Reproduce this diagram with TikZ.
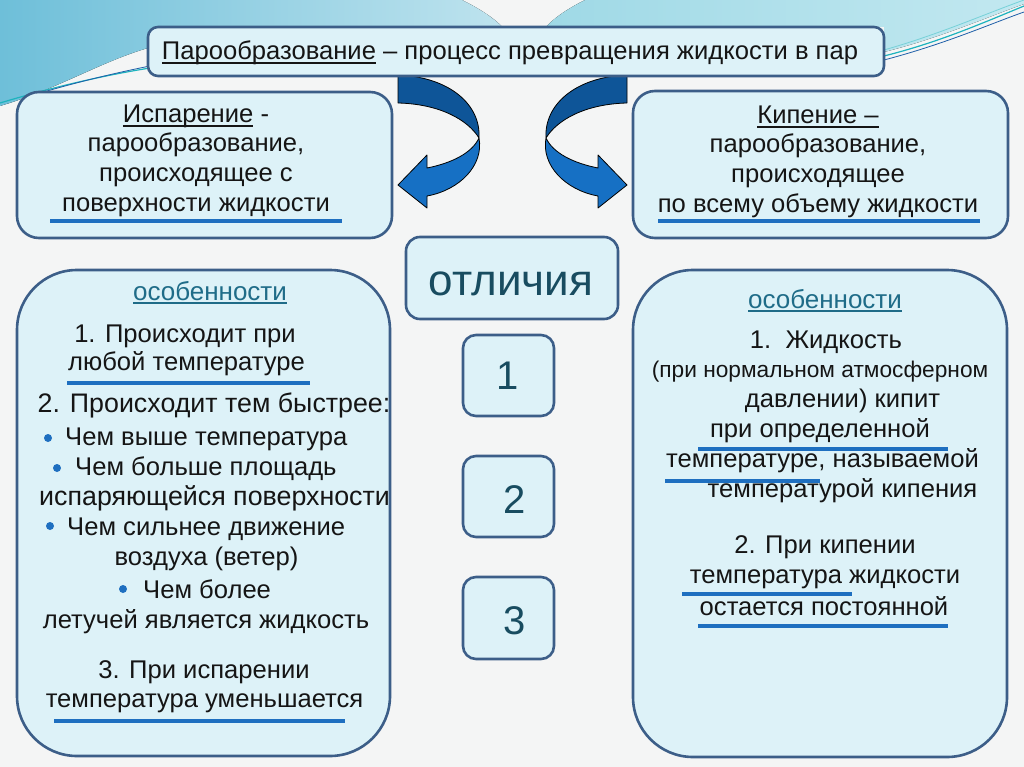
\documentclass[tikz,border=0pt]{standalone}
\usepackage{fontspec}
\setmainfont{Liberation Sans}
\newcommand{\uln}[1]{\setbox0=\hbox{#1}\rlap{\vrule width\wd0 height -2.4pt depth 3.8pt}\box0\relax}
\definecolor{bgc}{HTML}{F4F5F5}
\definecolor{bl1}{HTML}{6EBFD9}
\definecolor{bl2}{HTML}{BEE3EE}
\definecolor{cy1}{HTML}{9FD9E6}
\definecolor{cy2}{HTML}{C2E8F0}
\definecolor{boxfill}{HTML}{DDF2F8}
\definecolor{boxline}{HTML}{3C5E88}
\definecolor{uline}{HTML}{1E6FC0}
\definecolor{tealc}{HTML}{1F6C88}
\definecolor{dteal}{HTML}{184C60}
\definecolor{arrdark}{HTML}{0E5598}
\definecolor{arrlight}{HTML}{1670C4}
\definecolor{txt}{HTML}{151515}
\definecolor{tline}{HTML}{1DB3BE}
\definecolor{bline}{HTML}{1E5FA8}
\tikzset{
  box/.style={draw=boxline, fill=boxfill, line width=2.6pt, inner sep=0pt},
  tx/.style={font=\fontsize{25.6}{30}\selectfont, text=txt, anchor=base, inner sep=0pt},
  txw/.style={tx, anchor=base west},
  wide/.style={font=\fontsize{26.8}{30}\selectfont},
  ul/.style={draw=uline, line width=3.6pt},
  bul/.style={fill=uline},
  num/.style={font=\fontsize{40}{48}\selectfont, text=dteal, anchor=base, inner sep=0pt},
  feat/.style={tx, text=tealc, font=\fontsize{26}{30}\selectfont},
  arrowedge/.style={draw=black, line width=0.8pt, line join=round}
}
\begin{document}
\begin{tikzpicture}[x=1pt,y=-1pt]
\useasboundingbox (0,0) rectangle (1024,767);
\fill[bgc] (0,0) rectangle (1024,767);
% background swooshes
\fill[left color=bl1, right color=bl2] (0,0) -- (462,0) .. controls (478,8) and (495,18) .. (505,30) -- (505,60) -- (148,60) -- (148,48)
  .. controls (100,62) and (60,88) .. (0,106) -- cycle;
\fill[left color=cy1, right color=cy2] (585,0) .. controls (565,10) and (552,20) .. (546,27) -- (884,27) -- (884,52)
  .. controls (940,38) and (990,16) .. (1024,4) -- (1024,0) -- cycle;
\draw[tline, line width=1.2pt] (0,103) .. controls (50,88) and (100,76) .. (150,68);
\draw[bline, line width=0.8pt] (30,96) .. controls (70,84) and (110,74) .. (150,66);
\draw[tline, line width=1.2pt] (884,56) .. controls (940,42) and (985,22) .. (1024,6);
\draw[bline, line width=0.8pt] (884,60) .. controls (945,44) and (990,24) .. (1024,12);
\draw[tline!60, line width=0.8pt] (884,50) .. controls (940,34) and (985,14) .. (1024,0);

% arrows (drawn before the title box)
\coordinate (la1) at (398,75);
\coordinate (la2) at (398,103);
\coordinate (ltw) at (479,138);
\coordinate (ltip) at (398,185);
\filldraw[fill=arrdark, arrowedge] (la1) .. controls (450,77) and (481,105) .. (ltw) .. controls (468,120) and (440,104) .. (la2) -- cycle;
\filldraw[fill=arrlight, arrowedge] (ltw) .. controls (484,165) and (460,190) .. (427,196) -- (427,208) -- (ltip) -- (427,155) -- (427,168)
  .. controls (452,163) and (472,153) .. (ltw) -- cycle;
\coordinate (ra1) at (627,75);
\coordinate (ra2) at (627,103);
\coordinate (rtw) at (546,138);
\coordinate (rtip) at (627,185);
\filldraw[fill=arrdark, arrowedge] (ra1) .. controls (575,77) and (544,105) .. (rtw) .. controls (557,120) and (585,104) .. (ra2) -- cycle;
\filldraw[fill=arrlight, arrowedge] (rtw) .. controls (541,165) and (565,190) .. (598,196) -- (598,208) -- (rtip) -- (598,155) -- (598,168)
  .. controls (573,163) and (553,153) .. (rtw) -- cycle;

% boxes
\node[box, rounded corners=10pt, minimum width=736pt, minimum height=49pt] (top) at (516,51.5) {};
\node[box, rounded corners=22pt, minimum width=375pt, minimum height=146pt] (isp) at (204.5,165) {};
\node[box, rounded corners=22pt, minimum width=375pt, minimum height=147pt] (kip) at (820.5,164.5) {};
\node[box, rounded corners=14pt, minimum width=212pt, minimum height=82pt] (otl) at (512,278) {};
\node[box, rounded corners=13pt, minimum width=91pt, minimum height=81pt] (b1) at (508.5,375.5) {};
\node[box, rounded corners=13pt, minimum width=91pt, minimum height=81pt] (b2) at (508.5,496.5) {};
\node[box, rounded corners=13pt, minimum width=91pt, minimum height=82pt] (b3) at (508.5,618) {};
\node[box, rounded corners=60pt, minimum width=373pt, minimum height=486pt] (left) at (203.5,513) {};
\node[box, rounded corners=60pt, minimum width=374pt, minimum height=487pt] (right) at (820,513.5) {};

% title
\node[tx] (ttl) at (510,60) {\uln{Парообразование} – процесс превращения жидкости в пар};

% top left
\node[tx] (i1) at (196,123) {\uln{Испарение} -};
\node[tx] (i2) at (196,152) {парообразование,};
\node[tx] (i3) at (196,182) {происходящее с};
\node[tx] (i4) at (196,212) {поверхности жидкости};
\draw[ul] (50,221) -- (342,221);

% top right
\node[tx] (k1) at (818,124) {\uln{Кипение –}};
\node[tx] (k2) at (818,153) {парообразование,};
\node[tx] (k3) at (818,183) {происходящее};
\node[tx] (k4) at (818,213) {по всему объему жидкости};
\draw[ul] (658,221) -- (980,221);

% center
\node[num, font=\fontsize{44}{50}\selectfont] (otlt) at (511,295) {отличия};
\node[num] (n1) at (508,389) {1};
\node[num] (n2) at (515,513) {2};
\node[num] (n3) at (515,634) {3};

% left big box
\node[feat] (lf) at (210,300) {\uln{особенности}};
\node[tx] (l1) at (185,342) {1. Происходит при};
\node[tx] (l2) at (186.5,370) {любой температуре};
\draw[ul] (67,383) -- (310,383);
\node[tx, wide] (l3) at (214,412) {2. Происходит тем быстрее:};
\fill[bul] (48,438) circle (4);
\node[txw] (l4) at (65,445) {Чем выше температура};
\fill[bul] (57,468) circle (4);
\node[txw] (l5) at (75,475) {Чем больше площадь};
\node[tx, wide] (l6) at (214.5,505) {испаряющейся поверхности};
\fill[bul] (50,526) circle (4);
\node[txw] (l7) at (67,535) {Чем сильнее движение};
\node[tx] (l8) at (206.5,565) {воздуха (ветер)};
\fill[bul] (123,589) circle (4);
\node[txw] (l9) at (143,598) {Чем более};
\node[tx] (l10) at (206,628) {летучей является жидкость};
\node[tx] (l11) at (204,678) {3. При испарении};
\node[tx] (l12) at (204.5,707) {температура уменьшается};
\draw[ul] (54,721) -- (345,721);

% right big box
\node[feat] (rf) at (825,308) {\uln{особенности}};
\node[tx] (r1) at (826,348) {1.\ \ Жидкость};
\node[tx, font=\fontsize{22.7}{28}\selectfont] (r2) at (820,377) {(при нормальном атмосферном};
\node[tx] (r3) at (842.5,407) {давлении) кипит};
\node[tx] (r4) at (820,437) {при определенной};
\draw[ul] (698,449) -- (948,449);
\node[tx] (r5) at (822.5,467) {температуре, называемой};
\draw[ul] (665,481) -- (820,481);
\node[tx] (r6) at (842.5,497) {температурой кипения};
\node[tx] (r7) at (825,553) {2. При кипении};
\node[tx] (r8) at (825,583) {температура жидкости};
\draw[ul] (682,594) -- (852,594);
\node[tx] (r9) at (824,615) {остается постоянной};
\draw[ul] (698,626) -- (948,626);
\end{tikzpicture}
\end{document}
